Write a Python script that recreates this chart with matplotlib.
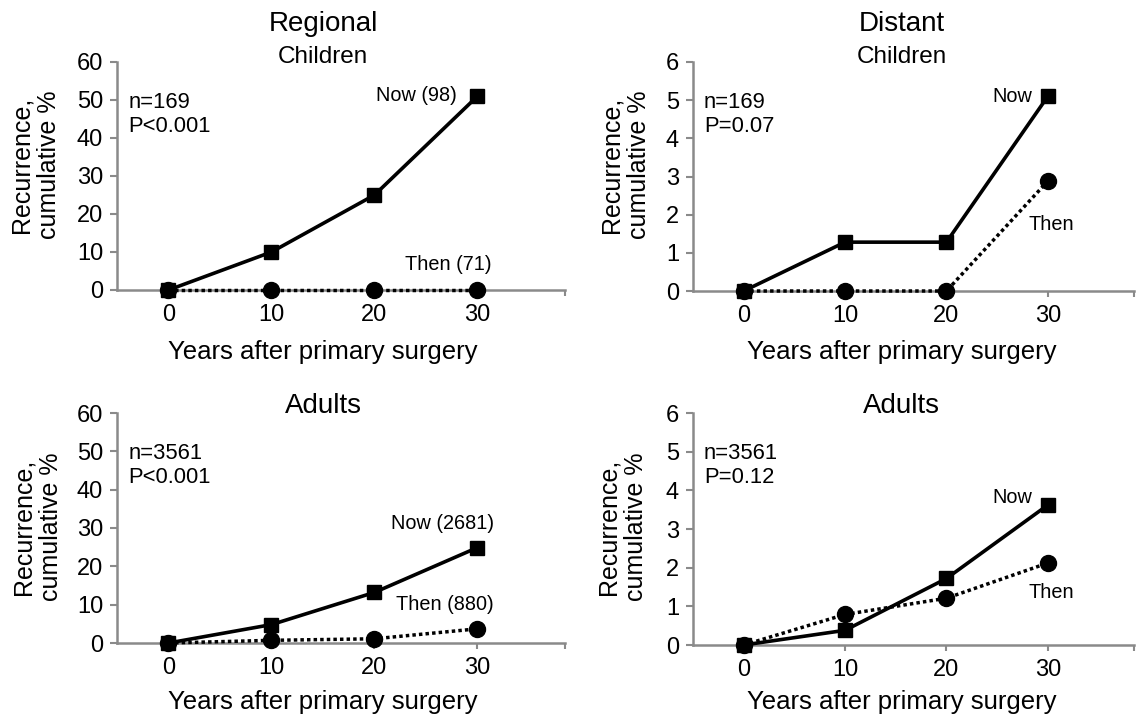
import matplotlib
matplotlib.use("Agg")
import matplotlib.pyplot as plt

plt.rcParams['font.family'] = ['Liberation Sans', 'DejaVu Sans']

W, H = 1137, 720
GRAY = "#8a8a8a"

years = [0, 10, 20, 30]

# Regional recurrence, %
reg_child_now = [0, 10, 25, 51]
reg_child_then = [0, 0, 0, 0]
reg_adult_now = [0, 4.8, 13.2, 24.9]
reg_adult_then = [0, 0.7, 1.1, 3.7]

# Distant recurrence, %
dist_child_now = [0, 1.28, 1.28, 5.1]
dist_child_then = [0, 0, 0, 2.88]
dist_adult_now = [0, 0.38, 1.72, 3.62]
dist_adult_then = [0, 0.79, 1.21, 2.12]

fig = plt.figure(figsize=(W / 100, H / 100), dpi=100)


def px_axes(left, top, right, bottom):
    return fig.add_axes([left / W, 1 - bottom / H, (right - left) / W, (bottom - top) / H])


def ftext(x, y, s, size, **kw):
    fig.text(x / W, 1 - y / H, s, fontsize=size, ha=kw.pop("ha", "center"),
             va=kw.pop("va", "center"), **kw)


def panel(ax, now, then, ymax, stats, now_lbl, then_lbl, now_off, then_off, now_ha, then_ha):
    ax.plot(years, now, color="black", lw=2.6, marker="s", ms=10, zorder=3, clip_on=False)
    ax.plot(years, then, color="black", lw=2.5, ls=(0, (1, 0.9)), marker="o", ms=11.5,
            zorder=4, clip_on=False)
    ax.set_xlim(-5, 38.5)
    ax.set_ylim(0, ymax)
    ax.set_xticks(years)
    ax.set_xticks([38.5], minor=True)
    ax.set_yticks([ymax / 6 * i for i in range(7)])
    ax.set_yticklabels([str(int(round(ymax / 6 * i))) for i in range(7)])
    for s in ["top", "right"]:
        ax.spines[s].set_visible(False)
    for s in ["left", "bottom"]:
        ax.spines[s].set_color(GRAY)
        ax.spines[s].set_linewidth(1.8)
    ax.tick_params(axis="both", which="both", color=GRAY, width=1.5, length=5,
                   labelsize=17, pad=5)
    ax.tick_params(axis="x", which="both", length=4, pad=6)
    ax.patch.set_alpha(0)
    ax.text(0.025, 0.87, stats, transform=ax.transAxes, fontsize=15.8, va="top",
            ha="left", linespacing=1.2)
    ax.annotate(now_lbl, (years[-1], now[-1]), textcoords="offset pixels",
                xytext=now_off, ha=now_ha, va="center", fontsize=14.3)
    ax.annotate(then_lbl, (years[-1], then[-1]), textcoords="offset pixels",
                xytext=then_off, ha=then_ha, va="center", fontsize=14.3)


ax1 = px_axes(117, 62, 565, 290)
panel(ax1, reg_child_now, reg_child_then, 60, "n=169\nP<0.001", "Now (98)", "Then (71)",
      (-21, 1), (14, 25), "right", "right")

ax2 = px_axes(693, 62, 1134, 291)
panel(ax2, dist_child_now, dist_child_then, 6, "n=169\nP=0.07", "Now", "Then",
      (-16, 0), (3, -43), "right", "center")

ax3 = px_axes(117, 413, 565, 643)
panel(ax3, reg_adult_now, reg_adult_then, 60, "n=3561\nP<0.001", "Now (2681)", "Then (880)",
      (17, 24), (16, 24), "right", "right")

ax4 = px_axes(693, 413, 1134, 645)
panel(ax4, dist_adult_now, dist_adult_then, 6, "n=3561\nP=0.12", "Now", "Then",
      (-16, 8), (3, -29), "right", "center")

# titles
ftext(323, 24, "Regional", 20)
ftext(902, 24, "Distant", 20)
ftext(323, 57, "Children", 17.5)
ftext(902, 57, "Children", 17.5)
ftext(323, 406, "Adults", 20)
ftext(901, 406, "Adults", 20)

# axis labels
for x, y in [(323, 352), (902, 352), (323, 702), (902, 702)]:
    ftext(x, y, "Years after primary surgery", 18.5)
for x, y in [(35, 165), (625, 165), (37, 527), (622, 527)]:
    ftext(x, y, "Recurrence,\ncumulative %", 18, rotation=90, multialignment="center",
          linespacing=1.2)

fig.savefig("out.png", dpi=100)
